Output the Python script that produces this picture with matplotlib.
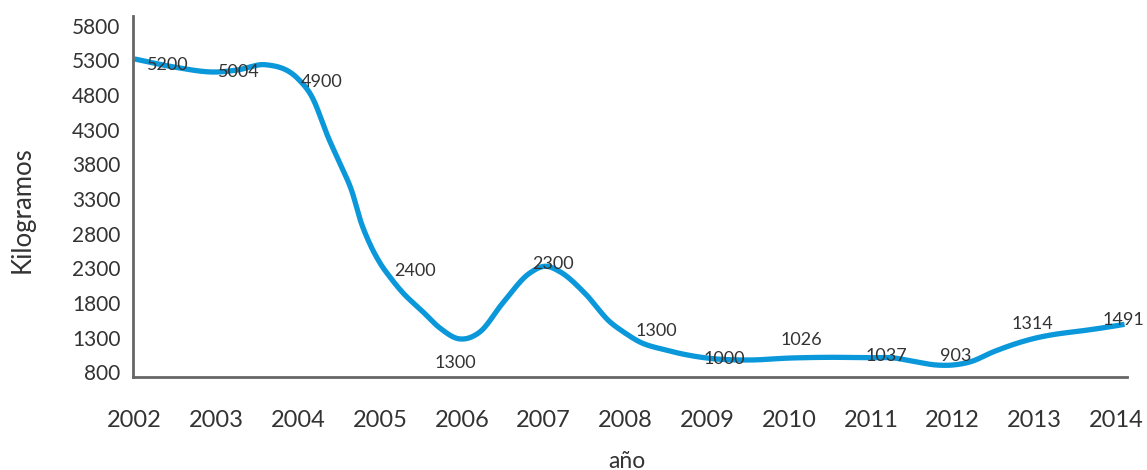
import numpy as np
import matplotlib
matplotlib.use("Agg")
import matplotlib.pyplot as plt

# ---- data ----
years = [2002, 2003, 2004, 2005, 2006, 2007, 2008, 2009, 2010, 2011, 2012, 2013, 2014]
label_values = [5200, 5004, 4900, 2400, 1300, 2300, 1300, 1000, 1026, 1037, 903, 1314, 1491]
yticks = [800, 1300, 1800, 2300, 2800, 3300, 3800, 4300, 4800, 5300, 5800]

# line (smoothed curve)
line_x = [2002.0, 2002.5, 2003.0, 2003.25, 2003.6, 2004.0, 2004.16, 2004.38, 2004.53,
          2004.65, 2004.77, 2004.87, 2005.0, 2005.12, 2005.28, 2005.5, 2005.73, 2005.97,
          2006.22, 2006.5, 2006.83, 2007.02, 2007.2, 2007.5, 2007.81, 2007.99, 2008.17,
          2008.49, 2009.0, 2009.5, 2010.0, 2010.5, 2011.0, 2011.25, 2011.5, 2011.8,
          2012.0, 2012.22, 2012.5, 2013.0, 2013.33, 2013.5, 2013.8, 2014.0, 2014.1]
line_y = [5320, 5200, 5132, 5160, 5237, 5030, 4790, 4150, 3760,
          3430, 2955, 2665, 2375, 2175, 1945, 1700, 1440, 1282,
          1382, 1800, 2232, 2330, 2250, 1944, 1527, 1370, 1240,
          1122, 1005, 977, 1005, 1016, 1010, 1010, 963, 905,
          905, 953, 1097, 1290, 1362, 1386, 1435, 1472, 1492]

# label anchor positions (text placement, in data units)
label_pos_x = [2002.40, 2003.28, 2004.29, 2005.43, 2005.92, 2007.11, 2008.38,
               2009.21, 2010.15, 2011.19, 2012.04, 2012.97, 2014.08]
label_pos_y = [5240, 5139, 4988, 2261, 934, 2355, 1389, 985, 1266, 1042, 1042, 1497, 1554]


def smooth(x, y, xs):
    """cubic Hermite spline with weighted central-difference tangents"""
    x = np.asarray(x, float); y = np.asarray(y, float)
    h = np.diff(x); d = np.diff(y) / h
    n = len(x); m = np.zeros(n)
    for k in range(1, n - 1):
        m[k] = (h[k] * d[k - 1] + h[k - 1] * d[k]) / (h[k - 1] + h[k])
    m[0] = d[0]; m[-1] = d[-1]
    idx = np.clip(np.searchsorted(x, xs) - 1, 0, n - 2)
    t = (xs - x[idx]) / h[idx]
    h00 = 2 * t**3 - 3 * t**2 + 1; h10 = t**3 - 2 * t**2 + t
    h01 = -2 * t**3 + 3 * t**2; h11 = t**3 - t**2
    return h00 * y[idx] + h10 * h[idx] * m[idx] + h01 * y[idx + 1] + h11 * h[idx] * m[idx + 1]


plt.rcParams['font.family'] = ['Lato', 'DejaVu Sans']
txt = '#333333'

fig = plt.figure(figsize=(11.47, 4.70), dpi=100)
ax = fig.add_axes([133 / 1147, 1 - 377 / 470, (1127 - 133) / 1147, (377 - 16) / 470])

xs = np.linspace(line_x[0], line_x[-1], 1500)
ax.plot(xs, smooth(line_x, line_y, xs), color='#0A98DA', lw=3.8,
        solid_capstyle='butt', solid_joinstyle='round', zorder=2)

for lx, ly, v in zip(label_pos_x, label_pos_y, label_values):
    ax.text(lx, ly, str(v), ha='center', va='center', fontsize=13, color=txt, zorder=3)

ax.set_xlim(2001.98, 2014.13)
ax.set_ylim(732, 5940)
ax.set_xticks(years)
ax.set_xticklabels([str(y) for y in years])
ax.set_yticks(yticks)
ax.tick_params(axis='y', length=0, pad=9, labelsize=15, labelcolor=txt)
ax.tick_params(axis='x', length=0, pad=24, labelsize=17, labelcolor=txt)

for s in ['top', 'right']:
    ax.spines[s].set_visible(False)
for s in ['left', 'bottom']:
    ax.spines[s].set_color('#666666')
    ax.spines[s].set_linewidth(2)

fig.text(22 / 1147, 1 - 210 / 470, 'Kilogramos', rotation=90, ha='center', va='center',
         fontsize=18.5, color=txt)
fig.text(627 / 1147, 1 - 461 / 470, 'año', ha='center', va='center', fontsize=16.5, color=txt)

fig.savefig('out.png', dpi=100)
